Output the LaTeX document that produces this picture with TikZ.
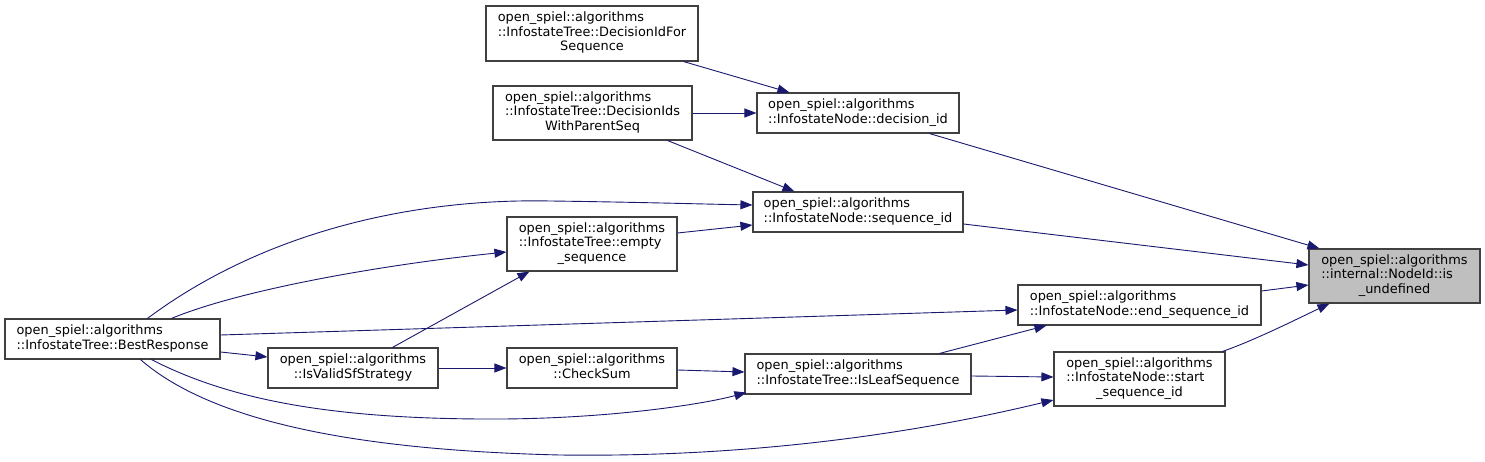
\documentclass[tikz,border=0pt]{standalone}
\usepackage{fontspec}
\setmainfont{DejaVu Sans}
\usetikzlibrary{arrows.meta,calc}
\definecolor{edgec}{HTML}{191970}
\definecolor{boxc}{HTML}{404040}
\definecolor{tgtfill}{HTML}{BFBFBF}
\newcommand{\lbl}[2]{\begin{tabular}{@{}l@{}}#1\\\multicolumn{1}{@{}c@{}}{#2}\end{tabular}}
\begin{document}
\begin{tikzpicture}[x=1pt,y=-1pt,
  fn/.style={draw=boxc, line width=1.1pt, inner sep=0pt, fill=white,
    font=\fontsize{12.9}{14.5}\selectfont, align=center},
  ed/.style={draw=edgec, line width=0.9pt, -{Triangle[length=12pt,width=9pt]}}]
\fill[white] (0,0) rectangle (1485,462);
\useasboundingbox (0,0) rectangle (1485,462);

\node[fn, minimum width=212pt, minimum height=55pt] (dfs) at (592,33.5)
  {\lbl{open\_spiel::algorithms\\::InfostateTree::DecisionIdFor}{Sequence}};
\node[fn, minimum width=199pt, minimum height=54pt] (dwp) at (592.5,113)
  {\lbl{open\_spiel::algorithms\\::InfostateTree::DecisionIds}{WithParentSeq}};
\node[fn, minimum width=202pt, minimum height=40pt] (did) at (858,113)
  {\lbl{open\_spiel::algorithms}{::InfostateNode::decision\_id}};
\node[fn, minimum width=210pt, minimum height=40pt] (sid) at (858,212)
  {\lbl{open\_spiel::algorithms}{::InfostateNode::sequence\_id}};
\node[fn, minimum width=170pt, minimum height=54pt] (emp) at (592,244)
  {\lbl{open\_spiel::algorithms\\::InfostateTree::empty}{\_sequence}};
\node[fn, fill=tgtfill, minimum width=171pt, minimum height=54pt] (tgt) at (1394.5,276)
  {\lbl{open\_spiel::algorithms\\::internal::NodeId::is}{\_undefined}};
\node[fn, minimum width=243pt, minimum height=40pt] (esid) at (1139.5,305)
  {\lbl{open\_spiel::algorithms}{::InfostateNode::end\_sequence\_id}};
\node[fn, minimum width=171pt, minimum height=54pt] (ssid) at (1139.5,379)
  {\lbl{open\_spiel::algorithms\\::InfostateNode::start}{\_sequence\_id}};
\node[fn, minimum width=215pt, minimum height=40pt] (br) at (112.5,339)
  {\lbl{open\_spiel::algorithms}{::InfostateTree::BestResponse}};
\node[fn, minimum width=170pt, minimum height=40pt] (ivs) at (353,368)
  {\lbl{open\_spiel::algorithms}{::IsValidSfStrategy}};
\node[fn, minimum width=170pt, minimum height=40pt] (cs) at (592,368)
  {\lbl{open\_spiel::algorithms}{::CheckSum}};
\node[fn, minimum width=226pt, minimum height=40pt] (ils) at (858,374)
  {\lbl{open\_spiel::algorithms}{::InfostateTree::IsLeafSequence}};

% edges into target
\draw[ed] ($(did.south west)+(173,0)$) -- ($(tgt.north west)+(11,0)$);
\draw[ed] ($(sid.east)+(0,12)$) -- ($(tgt.west)+(0,-11)$);
\draw[ed] ($(esid.east)+(0,-14)$) -- ($(tgt.west)+(0,9)$);
\draw[ed] ($(ssid.north east)+(-3,0)$) .. controls (1255,340) and (1295,320) .. ($(tgt.south west)+(21,0)$);

% into decision_id
\draw[ed] ($(dfs.south east)+(-15,0)$) -- ($(did.north west)+(33,0)$);
\draw[ed] (dwp.east) -- (did.west);

% into sequence_id
\draw[ed] ($(dwp.south east)+(-25,0)$) -- ($(sid.north west)+(42,0)$);
\draw[ed] ($(emp.east)+(0,-11)$) -- ($(sid.west)+(0,13)$);
\draw[ed] ($(br.north west)+(143,0)$) .. controls (255,238) and (400,198) .. (550,201)
   .. controls (630,202) and (700,204) .. ($(sid.west)+(0,-7)$);

% into empty_sequence
\draw[ed] ($(br.north west)+(167,0)$) .. controls (240,290) and (380,265) .. ($(emp.west)+(0,8)$);
\draw[ed] ($(ivs.north west)+(125,0)$) -- ($(emp.south west)+(23,0)$);

% into end_sequence_id
\draw[ed] ($(br.east)+(0,-4)$) -- ($(esid.west)+(0,5)$);
\draw[ed] ($(ils.north west)+(195,0)$) -- ($(esid.south west)+(29,0)$);

% chain
\draw[ed] ($(br.east)+(0,13)$) -- ($(ivs.west)+(0,-11)$);
\draw[ed] (ivs.east) -- (cs.west);
\draw[ed] ($(cs.east)+(0,2)$) -- ($(ils.west)+(0,-2)$);
\draw[ed] ($(br.south west)+(147,0)$) .. controls (230,400) and (330,418) .. (480,419)
   .. controls (600,420) and (700,405) .. ($(ils.south west)+(2,-2)$);

% into start_sequence_id
\draw[ed] ($(ils.east)+(0,2)$) -- ($(ssid.west)+(0,-2)$);
\draw[ed] ($(br.south west)+(136,0)$) .. controls (210,420) and (350,450) .. (560,455)
   .. controls (780,458) and (950,425) .. ($(ssid.west)+(0,21)$);
\end{tikzpicture}
\end{document}
